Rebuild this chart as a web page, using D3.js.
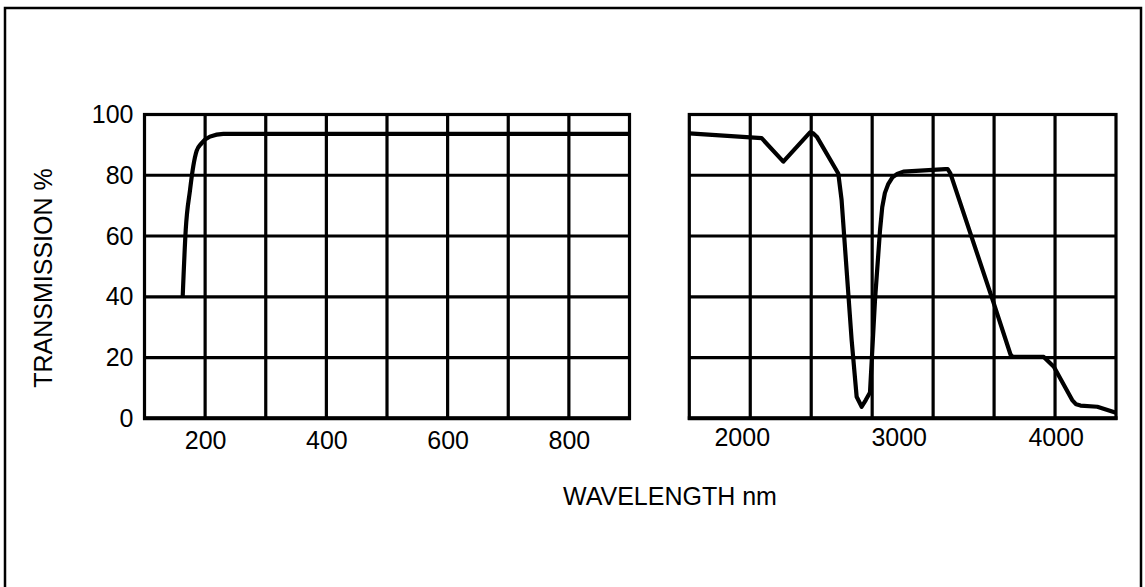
<!DOCTYPE html>
<html><head><meta charset="utf-8">
<script src="https://cdn.jsdelivr.net/npm/d3@7"></script>
<style>
html,body{margin:0;padding:0;background:#fff;}
svg{display:block;font-family:"Liberation Sans",Arial,Helvetica,sans-serif;}
</style></head>
<body>
<script>
// ---- data ----
const leftWavelength = [163, 168, 175, 180.5, 186, 194, 208, 230, 300, 900];
const leftTransmission = [40, 62, 75, 83, 88, 90.5, 92.7, 93.6, 93.6, 93.6];
const rightWavelength = [1666, 2127, 2265, 2435, 2455, 2478, 2615, 2636, 2700, 2732, 2764, 2790, 2817, 2849, 2881, 2895, 2912, 2934, 2960, 2990, 3030, 3297, 3312, 3329, 3605, 3712, 3725, 3744, 3924, 3988, 4105, 4130, 4158, 4265, 4384];
const rightTransmission = [93.8, 92.2, 84.5, 94.1, 93.8, 92.7, 80.6, 71.9, 25.8, 7.1, 3.8, 6, 8.5, 39, 62, 69.5, 74.2, 77.2, 79.3, 80.4, 81.2, 82, 82, 80.6, 37.9, 21, 20.3, 20.2, 20.2, 17, 6, 4.6, 4.2, 3.8, 1.8];
const leftTicks = [200, 400, 600, 800];
const leftGrid = [200, 300, 400, 500, 600, 700, 800];
const rightTicks = [2000, 3000, 4000];
const yTicks = [0, 20, 40, 60, 80, 100];
const yGrid = [20, 40, 60, 80];
const rightGridColumns = [1, 2, 3, 4, 5, 6];

const W = 1145, H = 587;
const svg = d3.select("body").append("svg").attr("width", W).attr("height", H);

// outer frame
svg.append("rect").attr("x", 5).attr("y", 8).attr("width", 1136).attr("height", 620)
  .attr("fill", "none").attr("stroke", "#000").attr("stroke-width", 2.5);

const y = d3.scaleLinear().domain([0, 100]).range([418.3, 114.5]);
const x1 = d3.scaleLinear().domain([100, 900]).range([144.5, 629.5]);
const x2 = d3.scaleLinear().domain([1666, 4384]).range([689.3, 1116]);
const g2 = d3.scaleLinear().domain([0, 7]).range([689.3, 1116]);

function panel(xs, vlines, id) {
  const [a, b] = xs.range();
  const g = svg.append("g");
  g.selectAll(".v").data(vlines).join("line")
    .attr("x1", d => d.px).attr("x2", d => d.px).attr("y1", y(100)).attr("y2", y(0))
    .attr("stroke", "#000").attr("stroke-width", 3.2);
  g.selectAll(".h").data(yGrid).join("line")
    .attr("x1", a).attr("x2", b).attr("y1", d => y(d)).attr("y2", d => y(d))
    .attr("stroke", "#000").attr("stroke-width", 3.2);
  g.append("rect").attr("x", a).attr("y", y(100)).attr("width", b - a).attr("height", y(0) - y(100))
    .attr("fill", "none").attr("stroke", "#000").attr("stroke-width", 3.2);
  g.append("line").attr("x1", a - 1.5).attr("x2", b + 1.5).attr("y1", y(0)).attr("y2", y(0))
    .attr("stroke", "#000").attr("stroke-width", 4);
  svg.append("clipPath").attr("id", id).append("rect")
    .attr("x", a - 2).attr("y", y(100) - 10).attr("width", b - a + 4).attr("height", y(0) - y(100) + 12);
}
panel(x1, leftGrid.map(d => ({px: x1(d)})), "c1");
panel(x2, rightGridColumns.map(d => ({px: g2(d)})), "c2");

// curves
const leftData = leftWavelength.map((w, i) => [w, leftTransmission[i]]);
const rightData = rightWavelength.map((w, i) => [w, rightTransmission[i]]);
svg.append("path").datum(leftData).attr("clip-path", "url(#c1)")
  .attr("d", d3.line().x(d => x1(d[0])).y(d => y(d[1])).curve(d3.curveMonotoneX))
  .attr("fill", "none").attr("stroke", "#000").attr("stroke-width", 4.2).attr("stroke-linejoin", "round");
svg.append("path").datum(rightData).attr("clip-path", "url(#c2)")
  .attr("d", d3.line().x(d => x2(d[0])).y(d => y(d[1])).curve(d3.curveLinear))
  .attr("fill", "none").attr("stroke", "#000").attr("stroke-width", 4.2).attr("stroke-linejoin", "round");

// axes labels
const fs = 25;
const yAx = svg.append("g").attr("transform", `translate(${x1.range()[0]},0)`)
  .call(d3.axisLeft(y).tickValues(yTicks).tickSize(0).tickPadding(11));
yAx.select(".domain").remove();
yAx.selectAll("text").attr("font-size", fs).attr("font-family", null).attr("fill", "#000");

const xAx1 = svg.append("g").attr("transform", `translate(0,${y(0)})`)
  .call(d3.axisBottom(x1).tickValues(leftTicks).tickSize(0).tickPadding(13).tickFormat(d3.format("d")));
xAx1.select(".domain").remove();
xAx1.selectAll("text").attr("font-size", fs).attr("font-family", null).attr("fill", "#000");

const xAx2 = svg.append("g").attr("transform", `translate(0,${y(0)})`)
  .call(d3.axisBottom(x2).tickValues(rightTicks).tickSize(0).tickPadding(10).tickFormat(d3.format("d")));
xAx2.select(".domain").remove();
xAx2.selectAll("text").attr("font-size", fs).attr("font-family", null).attr("fill", "#000");

svg.append("text").attr("x", 670).attr("y", 505).attr("text-anchor", "middle")
  .attr("font-size", fs).attr("fill", "#000").text("WAVELENGTH nm");
svg.append("text").attr("transform", "translate(52,278) rotate(-90)").attr("text-anchor", "middle")
  .attr("font-size", fs).attr("fill", "#000").text("TRANSMISSION %");
</script>
</body></html>
